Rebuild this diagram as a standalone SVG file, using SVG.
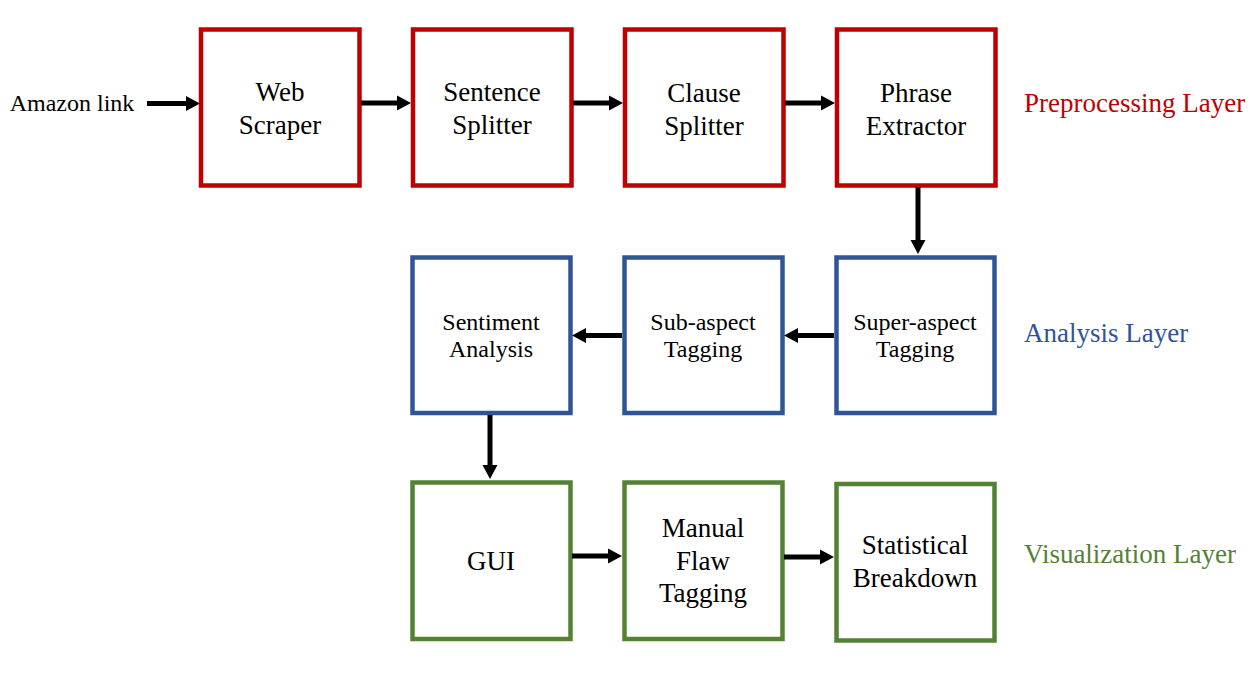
<svg xmlns="http://www.w3.org/2000/svg" width="1250" height="691" viewBox="0 0 1250 691">
<style>
.box{fill:#fff;stroke-width:4.5}
.red{stroke:#C00000}
.blue{stroke:#2F5597}
.green{stroke:#548235}
text{font-family:'Liberation Serif','Times New Roman',serif;text-anchor:middle;fill:#000}
.t27{font-size:27px}
.t24{font-size:24px}
.lbl{font-size:27px;text-anchor:start}
.conn line{stroke:#000;stroke-width:5}
.conn polygon{fill:#000}
</style>
<rect width="1250" height="691" fill="#fff"/>
<g id="amazon-link"><text class="t24" x="72" y="111">Amazon link</text></g>
<g id="web-scraper"><rect class="box red" x="201" y="29.5" width="158.5" height="156"/><text class="t27" x="280" y="101">Web</text><text class="t27" x="280" y="133.5">Scraper</text></g>
<g id="sentence-splitter"><rect class="box red" x="413" y="29.5" width="158.5" height="156"/><text class="t27" x="492" y="101">Sentence</text><text class="t27" x="492" y="134">Splitter</text></g>
<g id="clause-splitter"><rect class="box red" x="625" y="29.5" width="158.5" height="156"/><text class="t27" x="704" y="102">Clause</text><text class="t27" x="704" y="135">Splitter</text></g>
<g id="phrase-extractor"><rect class="box red" x="837" y="29.5" width="158.5" height="156"/><text class="t27" x="916" y="102">Phrase</text><text class="t27" x="916" y="135">Extractor</text></g>
<g id="sentiment-analysis"><rect class="box blue" x="412.5" y="257.5" width="158" height="155.5"/><text class="t24" x="491" y="329.5">Sentiment</text><text class="t24" x="491" y="357">Analysis</text></g>
<g id="sub-aspect-tagging"><rect class="box blue" x="624.5" y="257.5" width="158" height="155.5"/><text class="t24" x="703" y="329.5">Sub-aspect</text><text class="t24" x="703" y="357">Tagging</text></g>
<g id="super-aspect-tagging"><rect class="box blue" x="836.5" y="257.5" width="158" height="155.5"/><text class="t24" x="915" y="329.5">Super-aspect</text><text class="t24" x="915" y="357">Tagging</text></g>
<g id="gui"><rect class="box green" x="412.5" y="482.5" width="158" height="156.5"/><text class="t27" x="491" y="569.5">GUI</text></g>
<g id="manual-flaw-tagging"><rect class="box green" x="624.5" y="482.5" width="158" height="156.5"/><text class="t27" x="703" y="537">Manual</text><text class="t27" x="703" y="570">Flaw</text><text class="t27" x="703" y="602">Tagging</text></g>
<g id="statistical-breakdown"><rect class="box green" x="836.5" y="484" width="158" height="156.5"/><text class="t27" x="915" y="553.5">Statistical</text><text class="t27" x="915" y="586.5">Breakdown</text></g>
<g id="layer-labels">
<text class="lbl" x="1024" y="112" style="fill:#C00000">Preprocessing Layer</text>
<text class="lbl" x="1024" y="342" style="fill:#2F5597">Analysis Layer</text>
<text class="lbl" x="1024" y="563" style="fill:#548235">Visualization Layer</text>
</g>
<g id="connectors" class="conn">
<line x1="147" y1="103.5" x2="188" y2="103.5"/><polygon points="186,96 200,103.5 186,111"/>
<line x1="361" y1="103" x2="399" y2="103"/><polygon points="397,95.5 411,103 397,110.5"/>
<line x1="573" y1="103" x2="611" y2="103"/><polygon points="609,95.5 623,103 609,110.5"/>
<line x1="785" y1="103" x2="823" y2="103"/><polygon points="821,95.5 835,103 821,110.5"/>
<line x1="918" y1="187" x2="918" y2="242"/><polygon points="910.5,240 925.5,240 918,254"/>
<line x1="834" y1="335.5" x2="796" y2="335.5"/><polygon points="798,328 784,335.5 798,343"/>
<line x1="622" y1="335.5" x2="584" y2="335.5"/><polygon points="586,328 572,335.5 586,343"/>
<line x1="490" y1="415" x2="490" y2="467"/><polygon points="482.5,465 497.5,465 490,479"/>
<line x1="572" y1="556" x2="610" y2="556"/><polygon points="608,548.5 622,556 608,563.5"/>
<line x1="784" y1="557" x2="822" y2="557"/><polygon points="820,549.5 834,557 820,564.5"/>
</g>
</svg>
